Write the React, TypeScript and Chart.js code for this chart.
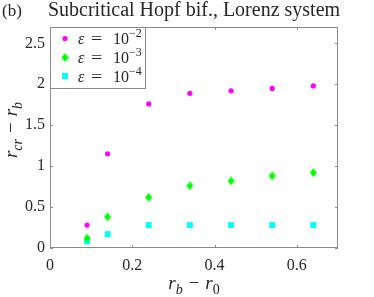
import React, { useEffect, useRef } from "react";
import { Chart, registerables } from "chart.js";

Chart.register(...registerables);

// ---- data ----
const xValues = [0.09, 0.14, 0.24, 0.34, 0.44, 0.54, 0.64];
const eps2Values = [0.28, 1.15, 1.76, 1.89, 1.92, 1.95, 1.98];
const eps3Values = [0.12, 0.38, 0.62, 0.76, 0.82, 0.88, 0.92];
const eps4Values = [0.08, 0.17, 0.28, 0.28, 0.28, 0.28, 0.28];
const seriesExponents = ["\u22122", "\u22123", "\u22124"];
const seriesColors = ["#ff00ff", "#00ff00", "#00ffff"];
const xTickValues = [0, 0.2, 0.4, 0.6];
const yTickValues = [0, 0.5, 1, 1.5, 2, 2.5];
const titleText = "Subcritical Hopf bif., Lorenz system";
const panelLabel = "(b)";

const SERIF = '"Liberation Serif", "DejaVu Serif", serif';
const AXIS_COLOR = "#8a8a8a";
const TEXT_COLOR = "#262626";

type Seg = { t: string; it?: boolean; sub?: boolean; sup?: boolean; gap?: number };

function segFont(s: Seg, size: number) {
  const sz = s.sub || s.sup ? Math.round(size * 0.72) : size;
  return `${s.it ? "italic " : ""}${sz}px ${SERIF}`;
}
function segWidth(ctx: CanvasRenderingContext2D, s: Seg, size: number) {
  ctx.font = segFont(s, size);
  return ctx.measureText(s.t).width + 2 * (s.gap || 0);
}
function measureSegs(ctx: CanvasRenderingContext2D, segs: Seg[], size: number) {
  let w = 0;
  for (const s of segs) w += segWidth(ctx, s, size);
  return w;
}
function drawSegs(ctx: CanvasRenderingContext2D, segs: Seg[], x: number, y: number, size: number) {
  let cx = x;
  ctx.textBaseline = "alphabetic";
  ctx.textAlign = "left";
  for (const s of segs) {
    ctx.font = segFont(s, size);
    const dy = s.sub ? size * 0.28 : s.sup ? -size * 0.42 : 0;
    ctx.fillText(s.t, cx + (s.gap || 0), y + dy);
    cx += segWidth(ctx, s, size);
  }
}

function makeDiamond(color: string, w: number, h: number) {
  const c = document.createElement("canvas");
  c.width = w;
  c.height = h;
  const g = c.getContext("2d")!;
  g.fillStyle = color;
  g.beginPath();
  g.moveTo(w / 2, 0);
  g.lineTo(w, h / 2);
  g.lineTo(w / 2, h);
  g.lineTo(0, h / 2);
  g.closePath();
  g.fill();
  return c;
}

const fmt = (v: number) => String(+Number(v).toFixed(2));

export default function App() {
  const ref = useRef<HTMLCanvasElement | null>(null);

  useEffect(() => {
    document.body.style.margin = "0";
    const canvas = ref.current!;
    const diamond = makeDiamond(seriesColors[1], 7, 9);

    const decor = {
      id: "decor",
      afterDraw(chart: any) {
        const ctx: CanvasRenderingContext2D = chart.ctx;
        const { left, right, top, bottom } = chart.chartArea;
        const xs = chart.scales.x;
        const ys = chart.scales.y;
        ctx.save();
        // box
        ctx.strokeStyle = AXIS_COLOR;
        ctx.lineWidth = 1;
        ctx.strokeRect(left + 0.5, top + 0.5, right - left - 1, bottom - top - 1);
        // inward ticks
        const tl = 3;
        ctx.beginPath();
        for (const v of xTickValues) {
          const px = Math.round(xs.getPixelForValue(v)) + 0.5;
          ctx.moveTo(px, bottom);
          ctx.lineTo(px, bottom - tl);
          ctx.moveTo(px, top);
          ctx.lineTo(px, top + tl);
        }
        for (const v of yTickValues) {
          const py = Math.round(ys.getPixelForValue(v)) + 0.5;
          ctx.moveTo(left, py);
          ctx.lineTo(left + tl, py);
          ctx.moveTo(right, py);
          ctx.lineTo(right - tl, py);
        }
        ctx.stroke();

        // legend
        const lx = left, ly = top, lw = 95, lh = 61;
        ctx.fillStyle = "#ffffff";
        ctx.fillRect(lx + 0.5, ly + 0.5, lw, lh);
        ctx.strokeRect(lx + 0.5, ly + 0.5, lw, lh);
        const rowY = [ly + 11.5, ly + 30.5, ly + 49];
        chart.data.datasets.forEach((ds: any, i: number) => {
          const cy = rowY[i];
          const mx = lx + 15;
          ctx.fillStyle = seriesColors[i];
          if (i === 0) {
            ctx.beginPath();
            ctx.arc(mx, cy, 2.6, 0, Math.PI * 2);
            ctx.fill();
          } else if (i === 1) {
            ctx.drawImage(diamond, mx - 3.5, cy - 4.5);
          } else {
            ctx.fillRect(mx - 3, cy - 3, 6, 6);
          }
          ctx.fillStyle = TEXT_COLOR;
          ctx.textBaseline = "alphabetic";
          ctx.textAlign = "left";
          const base = cy + 5.5;
          ctx.font = `italic 16px ${SERIF}`;
          ctx.fillText("\u03b5", lx + 28, base);
          ctx.font = `16px ${SERIF}`;
          ctx.save();
          ctx.translate(lx + 41, base);
          ctx.scale(1.25, 1);
          ctx.fillText("=", 0, 0);
          ctx.restore();
          ctx.fillText("10", lx + 63, base);
          ctx.font = `12px ${SERIF}`;
          ctx.fillText(seriesExponents[i], lx + 79, base - 7);
        });

        // title
        ctx.fillStyle = TEXT_COLOR;
        ctx.font = `20px ${SERIF}`;
        ctx.textAlign = "center";
        ctx.textBaseline = "alphabetic";
        ctx.fillText(titleText, (left + right) / 2, 16);
        ctx.textAlign = "left";
        ctx.font = `17px ${SERIF}`;
        ctx.fillText(panelLabel, 2, 16);

        // x axis title
        const xt: Seg[] = [
          { t: "r", it: true },
          { t: "b", it: true, sub: true },
          { t: "\u2212", gap: 6 },
          { t: "r", it: true },
          { t: "0", sub: true },
        ];
        const xw = measureSegs(ctx, xt, 19);
        drawSegs(ctx, xt, (left + right) / 2 - xw / 2, 289, 19);

        // y axis title
        const yt: Seg[] = [
          { t: "r", it: true },
          { t: "cr", it: true, sub: true },
          { t: "\u2212", gap: 6 },
          { t: "r", it: true },
          { t: "b", it: true, sub: true },
        ];
        const yw = measureSegs(ctx, yt, 19);
        ctx.save();
        ctx.translate(17, 130);
        ctx.rotate(-Math.PI / 2);
        drawSegs(ctx, yt, -yw / 2, 0, 19);
        ctx.restore();

        ctx.restore();
      },
    };

    const toPts = (ys: number[]) => xValues.map((x, i) => ({ x, y: ys[i] }));

    const chart = new Chart(canvas, {
      type: "scatter",
      data: {
        datasets: [
          {
            label: "eps = 1e-2",
            data: toPts(eps2Values),
            pointStyle: "circle",
            pointRadius: 2.6,
            backgroundColor: seriesColors[0],
            borderColor: seriesColors[0],
            borderWidth: 0,
          },
          {
            label: "eps = 1e-3",
            data: toPts(eps3Values),
            pointStyle: diamond as any,
            pointRadius: 4,
            backgroundColor: seriesColors[1],
            borderColor: seriesColors[1],
            borderWidth: 0,
          },
          {
            label: "eps = 1e-4",
            data: toPts(eps4Values),
            pointStyle: "rect",
            pointRadius: 4.2,
            backgroundColor: seriesColors[2],
            borderColor: seriesColors[2],
            borderWidth: 0,
          },
        ],
      },
      options: {
        animation: false,
        responsive: false,
        maintainAspectRatio: false,
        layout: { padding: { left: 0, top: 27, right: 36, bottom: 0 } },
        plugins: {
          legend: { display: false },
          title: { display: false },
          tooltip: { enabled: false },
        },
        scales: {
          x: {
            type: "linear",
            min: 0,
            max: 0.7,
            grid: { display: false, drawTicks: false },
            border: { display: false },
            afterBuildTicks: (s: any) => {
              s.ticks = xTickValues.map((v) => ({ value: v }));
            },
            afterFit: (s: any) => {
              s.height = 49;
            },
            ticks: {
              padding: 8,
              maxRotation: 0,
              autoSkip: false,
              color: TEXT_COLOR,
              font: { family: SERIF, size: 16 },
              callback: (v: any) => fmt(v),
            },
          },
          y: {
            type: "linear",
            min: 0,
            max: 2.7,
            grid: { display: false, drawTicks: false },
            border: { display: false },
            afterBuildTicks: (s: any) => {
              s.ticks = yTickValues.map((v) => ({ value: v }));
            },
            afterFit: (s: any) => {
              s.width = 50;
            },
            ticks: {
              padding: 5,
              autoSkip: false,
              color: TEXT_COLOR,
              font: { family: SERIF, size: 16 },
              callback: (v: any) => fmt(v),
            },
          },
        },
      },
      plugins: [decor],
    });

    return () => chart.destroy();
  }, []);

  return (
    <div style={{ width: 374, height: 297 }}>
      <canvas ref={ref} width={374} height={297} style={{ display: "block" }} />
    </div>
  );
}
